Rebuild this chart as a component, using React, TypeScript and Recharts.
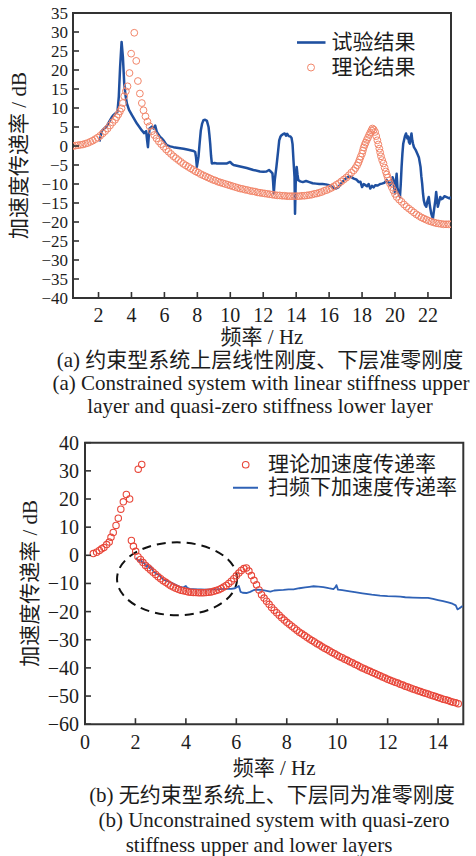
import React from 'react';
import { ComposedChart, Line, Scatter, XAxis, YAxis, ReferenceArea, Legend, Label } from 'recharts';

const SERIF = "'Liberation Serif', 'Times New Roman', serif";
const MIXED = "'Liberation Serif', 'Noto Sans CJK SC', serif";
const INK = '#1c1c1c';
const FRAME = '#333333';

// (a) 约束型系统
const BLUE_A = '#1f50a0';
const ORANGE_A = '#f2866a';
const xDomainA = [0.45, 23.4];
const yDomainA = [-40, 35];
const xTicksA = [2, 4, 6, 8, 10, 12, 14, 16, 18, 20, 22];
const yTicksA = [35, 30, 25, 20, 15, 10, 5, 0, -5, -10, -15, -20, -25, -30, -35, -40];

// 试验结果 (f / Hz, dB)
const testA: [number, number][] = [
  [2.06, 1.2], [2.2, 4.0], [2.35, 4.6], [2.5, 5.2], [2.65, 6.4], [2.81, 7.6], [2.92, 8.2], [3.0, 8.5],
  [3.15, 9.0], [3.23, 12.9], [3.31, 20.8], [3.4, 27.4], [3.48, 23.4], [3.56, 16.4], [3.64, 13.3],
  [3.72, 11.2], [3.85, 9.5], [4.03, 8.1], [4.18, 7.0], [4.33, 5.9], [4.48, 5.0], [4.63, 4.1],
  [4.77, 3.4], [4.89, 3.9], [4.95, 1.5], [5.0, -0.3], [5.05, 2.5], [5.1, 4.6], [5.24, 5.1],
  [5.34, 4.6], [5.44, 5.4], [5.54, 3.7], [5.64, 3.0], [5.74, 2.4], [5.84, 2.0], [5.94, 1.5],
  [6.05, 0.8], [6.15, 0.2], [6.35, -0.1], [6.55, -0.3], [6.85, -0.5], [7.16, -0.7], [7.45, -1.0],
  [7.77, -1.3], [7.87, -1.6], [7.92, -3.0], [7.97, -5.5], [8.02, -4.2], [8.07, -2.8], [8.14, 0.8],
  [8.21, 4.1], [8.29, 5.9], [8.37, 6.8], [8.47, 6.9], [8.58, 6.6], [8.68, 5.0], [8.73, 3.0],
  [8.78, 0.6], [8.83, -2.5], [8.88, -4.6], [9.05, -4.5], [9.19, -4.6], [9.5, -4.6], [9.8, -4.6],
  [9.99, -4.2], [10.1, -4.7], [10.2, -5.0], [10.6, -5.4], [11.0, -5.8], [11.4, -6.3], [11.8, -6.7],
  [12.0, -6.8], [12.2, -6.7], [12.35, -6.3], [12.45, -6.7], [12.56, -7.2], [12.6, -9.5], [12.64, -12.5],
  [12.7, -9.0], [12.8, -5.5], [12.9, -1.5], [12.97, 1.5], [13.05, 2.5], [13.1, 2.8], [13.2, 3.1],
  [13.3, 3.3], [13.38, 2.7], [13.45, 3.2], [13.55, 2.6], [13.65, 2.5], [13.72, 2.1], [13.78, 0.5],
  [13.84, -4.0], [13.9, -8.2], [13.93, -17.8], [13.97, -10.0], [14.03, -5.5], [14.08, -7.5],
  [14.13, -9.0], [14.25, -9.3], [14.4, -9.5], [14.6, -9.2], [14.8, -9.5], [15.0, -9.8], [15.2, -9.9],
  [15.4, -10.0], [15.6, -10.0], [15.8, -10.1], [16.0, -10.3], [16.2, -10.8], [16.4, -11.2],
  [16.55, -10.9], [16.7, -10.0], [16.8, -9.5], [17.0, -8.6], [17.2, -8.0], [17.35, -8.2],
  [17.5, -8.6], [17.65, -8.8], [17.8, -9.5], [17.9, -9.4], [18.0, -10.8], [18.1, -10.0],
  [18.2, -10.3], [18.3, -10.6], [18.4, -10.0], [18.5, -11.2], [18.6, -10.5], [18.7, -10.9],
  [18.8, -10.3], [18.95, -10.4], [19.1, -10.0], [19.2, -9.9], [19.35, -9.7], [19.5, -9.0],
  [19.6, -9.5], [19.7, -10.3], [19.8, -9.5], [19.85, -8.2], [19.9, -8.8], [19.95, -10.8],
  [20.0, -12.5], [20.05, -9.5], [20.1, -7.3], [20.15, -11.0], [20.2, -12.0], [20.3, -13.4],
  [20.35, -10.0], [20.4, -5.5], [20.45, -2.0], [20.5, 0.6], [20.6, 2.5], [20.67, 3.3], [20.75, 2.0],
  [20.8, 2.5], [20.85, 1.0], [20.9, 0.6], [20.95, 2.0], [21.0, 3.3], [21.05, 1.5], [21.1, 0.5],
  [21.15, -0.3], [21.25, -1.0], [21.35, -2.0], [21.45, -3.0], [21.55, -5.5], [21.6, -8.0],
  [21.65, -9.9], [21.7, -12.5], [21.75, -14.3], [21.82, -15.5], [21.9, -16.0], [21.97, -14.5],
  [22.05, -13.4], [22.12, -15.8], [22.2, -17.8], [22.3, -19.1], [22.38, -16.5], [22.45, -14.3],
  [22.5, -12.1], [22.55, -14.0], [22.6, -16.0], [22.67, -14.8], [22.75, -13.4], [22.82, -14.0],
  [22.9, -13.8], [23.0, -13.2], [23.1, -13.4], [23.2, -13.6], [23.3, -13.8], [23.4, -13.4],
];

// 理论结果 (f / Hz, dB)
const theoryA: [number, number][] = [
  [0.45, 0.0], [0.6, 0.1], [0.75, 0.2], [0.9, 0.3], [1.05, 0.4], [1.2, 0.6], [1.35, 0.8], [1.5, 1.1],
  [1.65, 1.4], [1.8, 1.8], [1.95, 2.2], [2.1, 2.7], [2.25, 3.3], [2.4, 3.9], [2.55, 4.6], [2.7, 5.4],
  [2.85, 6.2], [3.0, 6.9], [3.1, 7.6], [3.2, 8.3], [3.3, 9.1], [3.4, 9.9], [3.48, 11.3], [3.56, 13.1],
  [3.66, 14.4], [3.76, 15.7], [3.88, 19.2], [3.98, 24.3], [4.17, 29.8], [4.29, 22.4], [4.39, 17.1],
  [4.51, 13.8], [4.63, 11.3], [4.73, 9.4], [4.85, 7.8], [4.97, 6.4], [5.1, 5.2], [5.24, 3.9],
  [5.38, 2.9], [5.52, 2.0], [5.66, 1.2], [5.8, 0.5], [5.95, -0.2], [6.1, -0.9], [6.25, -1.5],
  [6.4, -2.1], [6.55, -2.7], [6.7, -3.2], [6.85, -3.7], [7.0, -4.2], [7.15, -4.7], [7.3, -5.1],
  [7.45, -5.5], [7.6, -5.9], [7.75, -6.3], [7.9, -6.7], [8.05, -7.0], [8.2, -7.4], [8.35, -7.7],
  [8.5, -8.0], [8.65, -8.3], [8.8, -8.6], [8.95, -8.9], [9.1, -9.1], [9.25, -9.4], [9.4, -9.6],
  [9.55, -9.8], [9.7, -10.0], [9.85, -10.2], [10.0, -10.4], [10.15, -10.6], [10.3, -10.8],
  [10.45, -11.0], [10.6, -11.2], [10.75, -11.3], [10.9, -11.5], [11.05, -11.6], [11.2, -11.8],
  [11.35, -11.9], [11.5, -12.0], [11.65, -12.2], [11.8, -12.3], [11.95, -12.4], [12.1, -12.5],
  [12.25, -12.6], [12.4, -12.7], [12.55, -12.8], [12.7, -12.9], [12.85, -13.0], [13.0, -13.0],
  [13.15, -13.1], [13.3, -13.1], [13.45, -13.2], [13.6, -13.2], [13.75, -13.2], [13.9, -13.2],
  [14.05, -13.2], [14.2, -13.2], [14.35, -13.1], [14.5, -13.1], [14.65, -13.0], [14.8, -12.9],
  [14.95, -12.8], [15.1, -12.6], [15.25, -12.5], [15.4, -12.3], [15.55, -12.1], [15.7, -11.8],
  [15.85, -11.6], [16.0, -11.3], [16.15, -11.0], [16.3, -10.6], [16.45, -10.2], [16.6, -9.8],
  [16.75, -9.3], [16.9, -8.8], [17.05, -8.3], [17.2, -7.7], [17.35, -7.0], [17.5, -6.4],
  [17.6, -5.8], [17.7, -5.1], [17.78, -4.4], [17.85, -3.6], [17.92, -2.8], [18.0, -2.0],
  [18.05, -1.2], [18.1, -0.4], [18.16, 0.3], [18.22, 0.9], [18.29, 1.6], [18.36, 2.2], [18.43, 2.9],
  [18.5, 3.5], [18.57, 4.1], [18.63, 4.6], [18.71, 4.3], [18.79, 3.7], [18.86, 2.6], [18.93, 1.5],
  [18.99, 0.4], [19.05, -0.7], [19.1, -1.7], [19.15, -2.7], [19.22, -3.7], [19.3, -4.6],
  [19.37, -5.7], [19.44, -6.7], [19.5, -7.5], [19.56, -8.3], [19.63, -9.1], [19.7, -9.9],
  [19.8, -10.8], [19.9, -11.7], [20.0, -12.6], [20.1, -13.4], [20.25, -14.1], [20.4, -14.7],
  [20.55, -15.4], [20.7, -16.0], [20.85, -16.5], [21.0, -17.0], [21.15, -17.5], [21.3, -18.0],
  [21.45, -18.4], [21.6, -18.8], [21.75, -19.1], [21.9, -19.4], [22.05, -19.7], [22.2, -19.9],
  [22.35, -20.1], [22.5, -20.3], [22.65, -20.4], [22.8, -20.5], [22.95, -20.6], [23.1, -20.6],
  [23.25, -20.6], [23.4, -20.6],
];

// (b) 无约束型系统
const RED_B = '#e8473a';
const BLUE_B = '#2f62b6';
const xDomainB = [0, 15];
const yDomainB = [-60, 40];
const xTicksB = [0, 2, 4, 6, 8, 10, 12, 14];
const yTicksB = [40, 30, 20, 10, 0, -10, -20, -30, -40, -50, -60];

// 理论加速度传递率 (f / Hz, dB)
const theoryB: [number, number][] = [
  [0.33, 0.6], [0.46, 1.1], [0.57, 1.7], [0.66, 2.3], [0.75, 2.8], [0.86, 3.8], [0.96, 4.7],
  [1.03, 6.4], [1.12, 8.1], [1.23, 10.6], [1.32, 13.2], [1.42, 16.4], [1.52, 19.0], [1.64, 21.6],
  [1.77, 20.0], [1.84, 5.3], [1.92, 3.2], [2.01, 1.4], [2.11, 30.6], [2.25, 32.3],
  [2.1, -0.5], [2.2, -1.5], [2.3, -2.6], [2.4, -3.6], [2.5, -4.4], [2.6, -5.2], [2.7, -6.0],
  [2.8, -6.8], [2.9, -7.6], [3.0, -8.3], [3.1, -9.0], [3.2, -9.6], [3.3, -10.2], [3.4, -10.8],
  [3.5, -11.3], [3.6, -11.7], [3.7, -12.1], [3.8, -12.4], [3.9, -12.6], [4.0, -12.8], [4.1, -13.0],
  [4.2, -13.1], [4.3, -13.2], [4.4, -13.2], [4.5, -13.3], [4.6, -13.3], [4.7, -13.3], [4.8, -13.2],
  [4.9, -13.1], [5.0, -13.0], [5.1, -12.8], [5.2, -12.5], [5.3, -12.2], [5.4, -11.8], [5.5, -11.3],
  [5.6, -10.7], [5.7, -10.0], [5.8, -9.2], [5.9, -8.3], [6.0, -7.3], [6.1, -6.3], [6.2, -5.4],
  [6.3, -4.7], [6.4, -4.5], [6.5, -5.6], [6.6, -7.2], [6.7, -8.9], [6.8, -10.5], [6.9, -12.3],
  [7.0, -14.0], [7.1, -15.2], [7.2, -16.3], [7.3, -17.4], [7.4, -18.5], [7.5, -19.5], [7.6, -20.4],
  [7.7, -21.3], [7.8, -22.2], [7.9, -23.0], [8.0, -23.8], [8.1, -24.5], [8.2, -25.2], [8.3, -25.9],
  [8.4, -26.6], [8.5, -27.3], [8.6, -27.9], [8.7, -28.5], [8.8, -29.1], [8.9, -29.7], [9.0, -30.3],
  [9.1, -30.8], [9.2, -31.4], [9.3, -31.9], [9.4, -32.5], [9.5, -33.0], [9.6, -33.5], [9.7, -34.0],
  [9.8, -34.5], [9.9, -35.0], [10.0, -35.5], [10.1, -36.0], [10.2, -36.4], [10.3, -36.9],
  [10.4, -37.3], [10.5, -37.8], [10.6, -38.2], [10.7, -38.7], [10.8, -39.1], [10.9, -39.6],
  [11.0, -40.0], [11.1, -40.4], [11.2, -40.8], [11.3, -41.2], [11.4, -41.6], [11.5, -42.0],
  [11.6, -42.4], [11.7, -42.8], [11.8, -43.2], [11.9, -43.6], [12.0, -44.0], [12.1, -44.4],
  [12.2, -44.7], [12.3, -45.1], [12.4, -45.4], [12.5, -45.8], [12.6, -46.1], [12.7, -46.5],
  [12.8, -46.8], [12.9, -47.1], [13.0, -47.5], [13.1, -47.8], [13.2, -48.1], [13.3, -48.4],
  [13.4, -48.7], [13.5, -49.0], [13.6, -49.3], [13.7, -49.6], [13.8, -49.9], [13.9, -50.2],
  [14.0, -50.5], [14.1, -50.8], [14.2, -51.1], [14.3, -51.3], [14.4, -51.6], [14.5, -51.9],
  [14.6, -52.2], [14.7, -52.4], [14.8, -52.7],
];

// 扫频下加速度传递率 (f / Hz, dB)
const sweepB: [number, number][] = [
  [2.03, -0.9], [2.1, -1.8], [2.16, -2.1], [2.22, -1.4], [2.28, -2.9], [2.33, -2.4], [2.4, -3.6],
  [2.45, -4.1], [2.5, -3.1], [2.56, -4.6], [2.62, -4.0], [2.68, -5.3], [2.74, -6.0], [2.8, -6.3],
  [2.87, -6.8], [2.93, -6.9], [2.98, -7.4], [3.05, -8.2], [3.11, -8.6], [3.2, -9.0], [3.27, -9.2],
  [3.35, -9.5], [3.44, -9.8], [3.55, -10.3], [3.64, -10.7], [3.75, -11.1], [3.85, -11.4],
  [3.92, -11.3], [4.0, -10.9], [4.06, -11.6], [4.15, -11.9], [4.3, -12.0], [4.45, -12.1],
  [4.6, -12.1], [4.8, -12.2], [5.0, -12.1], [5.2, -12.1], [5.4, -12.0], [5.6, -11.9], [5.8, -11.9],
  [5.95, -11.7], [6.05, -11.2], [6.1, -10.9], [6.17, -13.0], [6.25, -13.3], [6.4, -13.4],
  [6.55, -13.0], [6.68, -12.4], [6.8, -12.2], [7.0, -12.3], [7.2, -12.6], [7.35, -12.9],
  [7.5, -12.5], [7.7, -12.4], [7.87, -12.3], [8.07, -12.1], [8.27, -12.1], [8.5, -11.7],
  [8.73, -11.4], [8.9, -11.2], [9.06, -11.0], [9.26, -11.1], [9.45, -11.3], [9.66, -11.7],
  [9.85, -12.0], [9.92, -11.4], [9.97, -10.6], [10.03, -12.2], [10.2, -12.4], [10.5, -12.8],
  [10.7, -13.1], [11.0, -13.5], [11.37, -14.0], [11.7, -14.3], [12.0, -14.5], [12.3, -14.6],
  [12.5, -14.7], [12.7, -14.9], [13.0, -15.0], [13.36, -15.1], [13.6, -15.1], [13.8, -15.5],
  [14.0, -15.9], [14.2, -16.3], [14.4, -16.7], [14.57, -17.2], [14.7, -17.8], [14.77, -19.2],
  [14.85, -18.8], [14.97, -18.0],
];

// dashed ellipse marking the matched region (f / Hz, dB)
const ellipseB = { x1: 1.27, x2: 6.03, y1: -21.3, y2: 4.6 };

const toPoints = (rows: [number, number][]) => rows.map(([x, y]) => ({ x, y }));
const fmt = (v: number) => (v < 0 ? `\u2212${Math.abs(v)}` : `${v}`);

const ring = (r: number, color: string, w: number) => (p: any) => (
  <circle cx={p.cx} cy={p.cy} r={r} fill="none" stroke={color} strokeWidth={w} />
);

// ticks point inward, labels outside
const xTick = (labelDy: number) => (p: any) => (
  <g>
    <line x1={p.x} x2={p.x} y1={p.y} y2={p.y - 6} stroke={FRAME} strokeWidth={1.6} />
    <text x={p.x} y={p.y + labelDy} textAnchor="middle" dominantBaseline="central"
      fontFamily={SERIF} fontSize={20} fill={INK}>{fmt(p.payload.value)}</text>
  </g>
);

const yTick = (gap: number, size: number) => (p: any) => (
  <g>
    <line x1={p.x} x2={p.x + 6} y1={p.y} y2={p.y} stroke={FRAME} strokeWidth={1.6} />
    <text x={p.x - gap} y={p.y} textAnchor="end" dominantBaseline="central"
      fontFamily={SERIF} fontSize={size} fill={INK}>{fmt(p.payload.value)}</text>
  </g>
);

const yTitle = (cx: number, text: string) => (p: any) => {
  const vb = p.viewBox || { y: 0, height: 0 };
  const cy = vb.y + vb.height / 2;
  return (
    <text x={cx} y={cy} transform={`rotate(-90 ${cx} ${cy})`} textAnchor="middle" dominantBaseline="central"
      fontFamily={MIXED} fontSize={21} fill={INK}>{text}</text>
  );
};

const xTitle = (dy: number, text: string) => (p: any) => {
  const vb = p.viewBox || { x: 0, y: 0, width: 0 };
  return (
    <text x={vb.x + vb.width / 2} y={vb.y + dy} textAnchor="middle" dominantBaseline="central"
      fontFamily={MIXED} fontSize={21} fill={INK}>{text}</text>
  );
};

const ellipseShape = (p: any) => (
  <ellipse cx={p.x + p.width / 2} cy={p.y + p.height / 2} rx={p.width / 2} ry={p.height / 2}
    fill="none" stroke="#111" strokeWidth={2} strokeDasharray="9 6" />
);

const legendRow = (h: number, marker: React.ReactNode, text: string) => (
  <div style={{ display: 'flex', alignItems: 'center', height: h }}>
    <svg width={35} height={h} style={{ display: 'block' }}>{marker}</svg>
    <span style={{ lineHeight: `${h}px` }}>{text}</span>
  </div>
);

const LegendA = () => (
  <div style={{ fontFamily: MIXED, fontSize: 21, color: INK, whiteSpace: 'nowrap' }}>
    {legendRow(25, <line x1={0} x2={28.5} y1={12.5} y2={12.5} stroke={BLUE_A} strokeWidth={2.6} />, '试验结果')}
    {legendRow(25, <circle cx={14} cy={12.5} r={3.5} fill="none" stroke={ORANGE_A} strokeWidth={1} />, '理论结果')}
  </div>
);

const LegendB = () => (
  <div style={{ fontFamily: MIXED, fontSize: 21, color: INK, whiteSpace: 'nowrap' }}>
    {legendRow(23.5, <circle cx={12.7} cy={11.75} r={3.3} fill="none" stroke={RED_B} strokeWidth={1.1} />, '理论加速度传递率')}
    {legendRow(23.5, <line x1={0} x2={25} y1={11.75} y2={11.75} stroke={BLUE_B} strokeWidth={2} />, '扫频下加速度传递率')}
  </div>
);

const ChartA = () => (
  <ComposedChart width={476} height={350} margin={{ top: 13, right: 25, bottom: 0, left: 0 }}>
    <XAxis type="number" dataKey="x" domain={xDomainA} ticks={xTicksA} interval={0} allowDataOverflow
      height={52} axisLine={false} tickLine={false} tickSize={0} tickMargin={0} tick={xTick(17)}>
      <Label content={xTitle(39, '频率 / Hz')} />
    </XAxis>
    <YAxis type="number" domain={yDomainA} ticks={yTicksA} interval={0} allowDataOverflow
      width={73} axisLine={false} tickLine={false} tickSize={0} tickMargin={0} tick={yTick(5, 17)}>
      <Label content={yTitle(19, '加速度传递率 / dB')} />
    </YAxis>
    <ReferenceArea x1={xDomainA[0]} x2={xDomainA[1]} y1={yDomainA[0]} y2={yDomainA[1]}
      fill="none" stroke={FRAME} strokeWidth={2} ifOverflow="visible" />
    <Scatter name="理论结果" data={toPoints(theoryA)} dataKey="y" shape={ring(3.4, ORANGE_A, 1)}
      isAnimationActive={false} />
    <Line name="试验结果" data={toPoints(testA)} dataKey="y" type="linear" stroke={BLUE_A} strokeWidth={2.5}
      strokeLinejoin="round" dot={false} activeDot={false} isAnimationActive={false} />
    <Legend layout="vertical" align="center" verticalAlign="middle" content={<LegendA />}
      wrapperStyle={{ left: 296.5, top: 29.5, width: 170 }} />
  </ComposedChart>
);

const ChartB = () => (
  <ComposedChart width={476} height={360} margin={{ top: 22.7, right: 12.7, bottom: 0, left: 0 }}>
    <XAxis type="number" dataKey="x" domain={xDomainB} ticks={xTicksB} interval={0} allowDataOverflow
      height={55.8} axisLine={false} tickLine={false} tickSize={0} tickMargin={0} tick={xTick(17.5)}>
      <Label content={xTitle(44, '频率 / Hz')} />
    </XAxis>
    <YAxis type="number" domain={yDomainB} ticks={yTicksB} interval={0} allowDataOverflow
      width={85} axisLine={false} tickLine={false} tickSize={0} tickMargin={0} tick={yTick(6, 20)}>
      <Label content={yTitle(30, '加速度传递率 / dB')} />
    </YAxis>
    <ReferenceArea x1={xDomainB[0]} x2={xDomainB[1]} y1={yDomainB[0]} y2={yDomainB[1]}
      fill="none" stroke={FRAME} strokeWidth={2} ifOverflow="visible" />
    <Scatter name="理论加速度传递率" data={toPoints(theoryB)} dataKey="y" shape={ring(3.2, RED_B, 1.1)}
      isAnimationActive={false} />
    <Line name="扫频下加速度传递率" data={toPoints(sweepB)} dataKey="y" type="linear" stroke={BLUE_B}
      strokeWidth={1.8} strokeLinejoin="round" dot={false} activeDot={false} isAnimationActive={false} />
    <ReferenceArea {...ellipseB} shape={ellipseShape} ifOverflow="visible" />
    <Legend layout="vertical" align="center" verticalAlign="middle" content={<LegendB />}
      wrapperStyle={{ left: 233, top: 32.5, width: 240 }} />
  </ComposedChart>
);

const Caption = ({ cx, cy, children }: { cx: number; cy: number; children: React.ReactNode }) => (
  <div style={{
    position: 'absolute', left: cx - 250, top: cy - 10, width: 500, height: 20, lineHeight: '20px',
    textAlign: 'center', fontFamily: MIXED, fontSize: 21, color: INK, whiteSpace: 'nowrap',
  }}>{children}</div>
);

export default function App() {
  return (
    <div style={{ position: 'absolute', left: 0, top: 0, width: 476, height: 856, background: '#fff', overflow: 'hidden' }}>
      <div style={{ position: 'absolute', left: 0, top: 0 }}>
        <ChartA />
      </div>
      <Caption cx={260} cy={359.5}>(a) 约束型系统上层线性刚度、下层准零刚度</Caption>
      <Caption cx={261} cy={382.8}>(a) Constrained system with linear stiffness upper</Caption>
      <Caption cx={260} cy={406}>layer and quasi-zero stiffness lower layer</Caption>
      <div style={{ position: 'absolute', left: 0, top: 420 }}>
        <ChartB />
      </div>
      <Caption cx={272} cy={795}>(b) 无约束型系统上、下层同为准零刚度</Caption>
      <Caption cx={274} cy={820}>(b) Unconstrained system with quasi-zero</Caption>
      <Caption cx={259} cy={845}>stiffness upper and lower layers</Caption>
    </div>
  );
}
